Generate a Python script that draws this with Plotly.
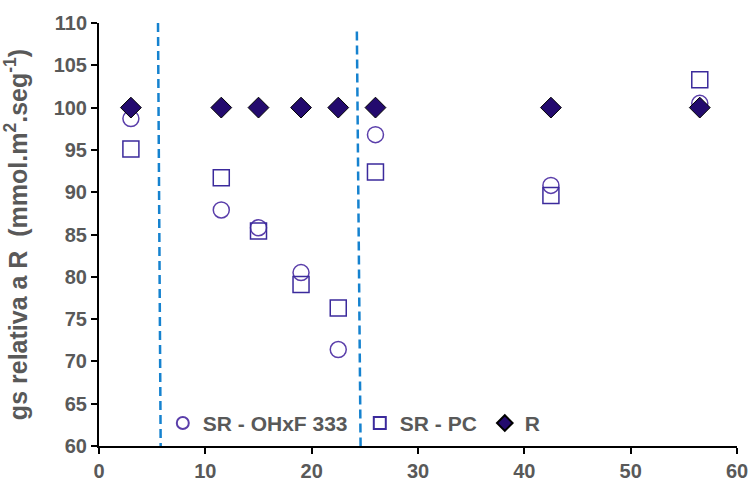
import plotly.graph_objects as go

x_vals = [3, 11.5, 15, 19, 22.5, 26, 42.5, 56.5]
sr_ohxf = [98.7, 87.9, 85.8, 80.5, 71.4, 96.8, 90.8, 100.5]
sr_pc = [95.1, 91.7, 85.4, 79.1, 76.3, 92.4, 89.6, 103.3]
r_vals = [100, 100, 100, 100, 100, 100, 100, 100]
x_ticks = [0, 10, 20, 30, 40, 50, 60]
y_ticks = [60, 65, 70, 75, 80, 85, 90, 95, 100, 105, 110]
div1_x = [5.55, 5.8]
div1_y = [110, 60]
div2_x = [24.25, 24.6]
div2_y = [109, 60]

gray = "#595959"
FONT = "Liberation Sans, Arial"
fig = go.Figure()
fig.add_trace(go.Scatter(x=div1_x, y=div1_y, mode="lines", showlegend=False,
                         line=dict(color="#1582CF", width=2.5, dash="9px,5px"), hoverinfo="skip"))
fig.add_trace(go.Scatter(x=div2_x, y=div2_y, mode="lines", showlegend=False,
                         line=dict(color="#1582CF", width=2.5, dash="9px,5px"), hoverinfo="skip"))
fig.add_trace(go.Scatter(x=x_vals, y=sr_ohxf, mode="markers", name="<b>SR - OHxF 333</b>",
                         legendwidth=152,
                         marker=dict(symbol="circle-open", size=16, color="#5A3EAA", line=dict(width=1.5))))
fig.add_trace(go.Scatter(x=x_vals, y=sr_pc, mode="markers", name="<b>SR - PC</b>",
                         legendwidth=80,
                         marker=dict(symbol="square-open", size=16, color="#3B2A9C", line=dict(width=1.5))))
fig.add_trace(go.Scatter(x=x_vals, y=r_vals, mode="markers", name="<b>R</b>",
                         marker=dict(symbol="diamond", size=16, color="#230A6E", line=dict(width=1, color="#000000"))))

fig.update_layout(
    width=750, height=484,
    margin=dict(l=99, r=13, t=23, b=38, autoexpand=False),
    plot_bgcolor="white", paper_bgcolor="white",
    font=dict(family=FONT, color=gray, size=20),
    legend=dict(orientation="h", x=0.1, y=0.005, xanchor="left", yanchor="bottom",
                bgcolor="rgba(0,0,0,0)", font=dict(size=21, color=gray, family=FONT),
                itemwidth=30, tracegroupgap=0, itemsizing="constant"),
)
fig.update_xaxes(range=[0, 60], tickvals=x_ticks, ticktext=[f"<b>{t}</b>" for t in x_ticks],
                 showgrid=False, zeroline=False, showline=True, linecolor="black", linewidth=2,
                 ticks="outside", ticklen=6, tickwidth=2, tickcolor="black", automargin=False,
                 tickfont=dict(size=20, color=gray))
fig.update_yaxes(range=[60, 110], tickvals=y_ticks, ticktext=[f"<b>{t}</b>" for t in y_ticks],
                 showgrid=False, zeroline=False, showline=True, linecolor="black", linewidth=2,
                 ticks="outside", ticklen=6, tickwidth=2, tickcolor="black", automargin=False,
                 tickfont=dict(size=20, color=gray),
                 title=dict(text="<b>gs relativa a R  (mmol.m<sup>2</sup>.seg<sup>-1</sup>)</b>",
                            font=dict(size=25, color=gray), standoff=22))
fig.write_html("out.html", config={"displayModeBar": False},
               post_script="document.body.style.margin='0';document.body.style.overflow='hidden';")
